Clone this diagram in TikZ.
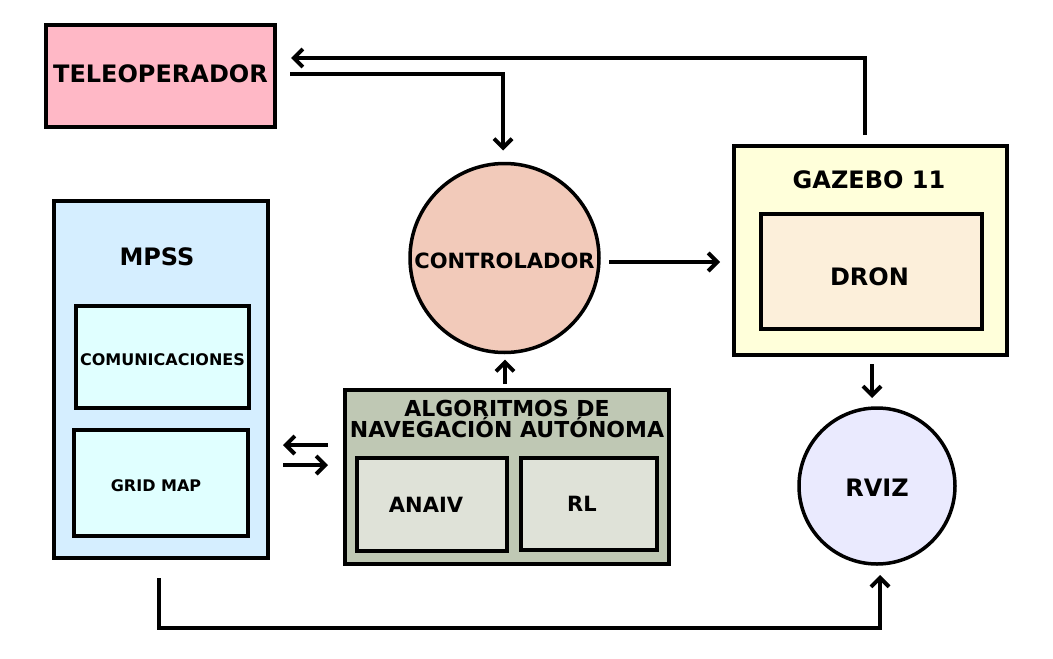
\documentclass[tikz,border=0pt]{standalone}
\usepackage{fontspec}
\setmainfont{DejaVu Sans}
\usetikzlibrary{arrows.meta}

\definecolor{teleopfill}{HTML}{FFB8C6}
\definecolor{mpssfill}{HTML}{D5EEFF}
\definecolor{modfill}{HTML}{E0FFFF}
\definecolor{ctrlfill}{HTML}{F2CABA}
\definecolor{algofill}{HTML}{BFC8B4}
\definecolor{subfill}{HTML}{DFE2D8}
\definecolor{gazebofill}{HTML}{FFFFDA}
\definecolor{dronfill}{HTML}{FCEFDA}
\definecolor{rvizfill}{HTML}{EAEAFE}

\newcommand{\lift}[2]{\raisebox{#1}[\height][\depth]{#2}}

\tikzset{
  blk/.style={draw, line width=3.5pt, outer sep=0pt, inner sep=0pt},
  big/.style={font=\fontsize{24pt}{24pt}\selectfont\bfseries},
  mid/.style={font=\fontsize{21pt}{21pt}\selectfont\bfseries},
  small/.style={font=\fontsize{16pt}{16pt}\selectfont\bfseries},
  arr/.style={line width=4pt, -{Straight Barb[length=9pt,width=18pt]}}
}

\begin{document}
\begin{tikzpicture}[x=1pt,y=-1pt]
  \useasboundingbox (0,0) rectangle (1053,659);

  \node (teleop)  at (160.5,76)  [blk,big,fill=teleopfill,minimum width=229pt,minimum height=102pt] {\lift{2pt}{TELEOPERADOR}};

  \node (mpss)    at (161,379.5) [blk,fill=mpssfill,minimum width=214pt,minimum height=357pt] {};
  \node (mpsstit) at (157,257)   [big] {MPSS};
  \node (comms)   at (162.5,357) [blk,small,fill=modfill,minimum width=173pt,minimum height=102pt] {\lift{-3pt}{COMUNICACIONES}};
  \node (gridmap) at (161,483)   [blk,small,fill=modfill,minimum width=174pt,minimum height=106pt] {\lift{-3pt}{GRID MAP}\hspace*{10pt}};

  \node (ctrl)    at (504.5,258) [blk,mid,circle,fill=ctrlfill,minimum size=189pt] {\lift{-3pt}{CONTROLADOR}};

  \node (algos)   at (507,477)   [blk,fill=algofill,minimum width=324pt,minimum height=174pt] {};
  \node (algotit) at (507,419)   [align=center,font=\fontsize{22pt}{21pt}\selectfont\bfseries] {ALGORITMOS DE\\NAVEGACIÓN AUTÓNOMA};
  \node (anaiv)   at (432,504.5) [blk,mid,fill=subfill,minimum width=150pt,minimum height=93pt] {ANAIV\hspace*{12pt}};
  \node (rl)      at (589,504)   [blk,mid,fill=subfill,minimum width=136pt,minimum height=92pt] {RL\hspace*{14pt}};

  \node (gazebo)  at (870.5,250.5) [blk,fill=gazebofill,minimum width=273pt,minimum height=209pt] {};
  \node (gazetit) at (869,180)     [big] {GAZEBO 11};
  \node (dron)    at (871.5,271.5) [blk,big,fill=dronfill,minimum width=221pt,minimum height=115pt] {\lift{-5pt}{DRON}\hspace*{4pt}};

  \node (rviz)    at (877,486)   [blk,big,circle,fill=rvizfill,minimum size=156pt] {\lift{-2pt}{RVIZ}};

  %\draw[style=help lines] (0,0) grid[step=50pt] (1053,659);
  \draw[arr] ([xshift=-5.5pt,yshift=11pt]gazebo.north) |- ([xshift=16pt,yshift=18pt]teleop.east);
  \draw[arr] ([xshift=15pt,yshift=2pt]teleop.east) -| ([xshift=-1.5pt,yshift=13pt]ctrl.north);
  \draw[arr] ([xshift=10pt,yshift=-4pt]ctrl.east) -- ([xshift=-14pt,yshift=-4pt]ctrl.east -| gazebo.west);
  \draw[arr] ([xshift=-2pt,yshift=6pt]algos.north) -- ([xshift=-2pt,yshift=-7pt]algos.north |- ctrl.south);
  \draw[arr] ([xshift=-17pt,yshift=32pt]algos.west) -- ([xshift=15pt,yshift=32pt]algos.west -| mpss.east);
  \draw[arr] ([xshift=15pt,yshift=12pt]algos.west -| mpss.east) -- ([xshift=-17pt,yshift=12pt]algos.west);
  \draw[arr] ([xshift=1.5pt,yshift=-9pt]gazebo.south) -- ([xshift=1.5pt,yshift=10pt]gazebo.south |- rviz.north);
  \draw[arr] ([xshift=-2pt,yshift=-20pt]mpss.south) -- ++(0,50) -| ([xshift=3pt,yshift=-11pt]rviz.south);
\end{tikzpicture}
\end{document}
